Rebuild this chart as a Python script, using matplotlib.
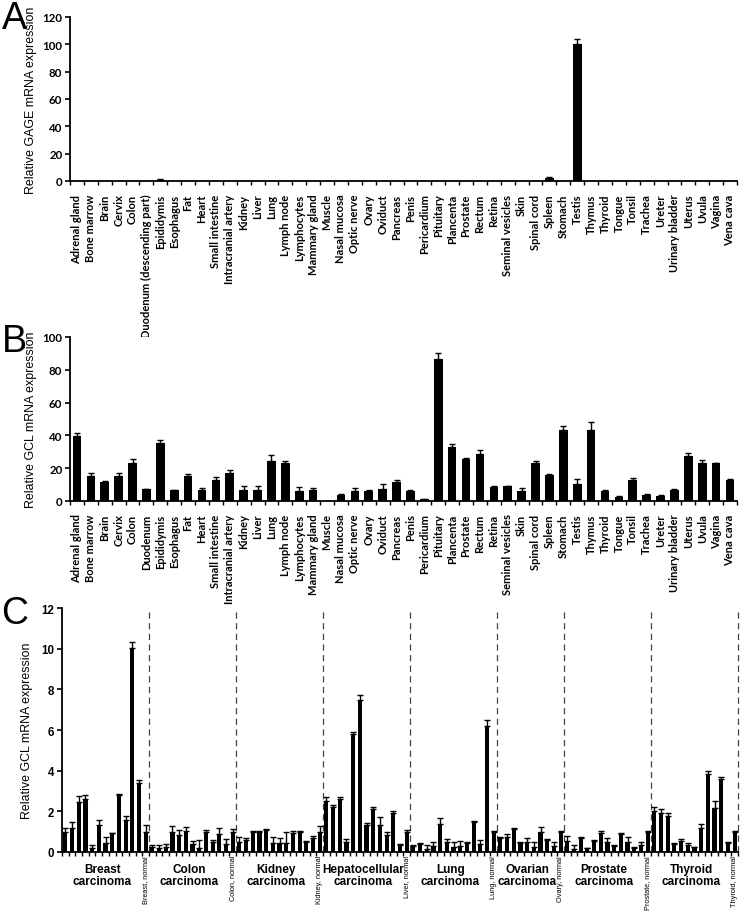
import numpy as np
import matplotlib
matplotlib.use('Agg')
import matplotlib.pyplot as plt
from matplotlib.transforms import blended_transform_factory

# tissue names (panel A uses the long duodenum label)
tissues = ['Adrenal gland', 'Bone marrow', 'Brain', 'Cervix', 'Colon', 'Duodenum',
           'Epididymis', 'Esophagus', 'Fat', 'Heart', 'Small intestine',
           'Intracranial artery', 'Kidney', 'Liver', 'Lung', 'Lymph node',
           'Lymphocytes', 'Mammary gland', 'Muscle', 'Nasal mucosa', 'Optic nerve',
           'Ovary', 'Oviduct', 'Pancreas', 'Penis', 'Pericardium', 'Pituitary',
           'Plancenta', 'Prostate', 'Rectum', 'Retina', 'Seminal vesicles', 'Skin',
           'Spinal cord', 'Spleen', 'Stomach', 'Testis', 'Thymus', 'Thyroid',
           'Tongue', 'Tonsil', 'Trachea', 'Ureter', 'Urinary bladder', 'Uterus',
           'Uvula', 'Vagina', 'Vena cava']
tissues_a = ['Duodenum (descending part)' if t == 'Duodenum' else t for t in tissues]

# panel A - GAGE
gage_expr = [0, 0, 0, 0, 0, 0, 0.8, 0, 0, 0, 0, 0, 0, 0, 0, 0, 0, 0, 0, 0, 0, 0, 0, 0,
             0, 0, 0, 0, 0, 0, 0, 0, 0, 0, 2.0, 0, 100, 0, 0, 0, 0, 0, 0, 0, 0, 0, 0, 0]
gage_err = [0, 0, 0, 0, 0, 0, 0.3, 0, 0, 0, 0, 0, 0, 0, 0, 0, 0, 0, 0, 0, 0, 0, 0, 0,
            0, 0, 0, 0, 0, 0, 0, 0, 0, 0, 1.0, 0, 4.0, 0, 0, 0, 0, 0, 0, 0, 0, 0, 0, 0]

# panel B - GCL in normal tissues
gcl_expr = [39.4, 15.3, 11.6, 15.3, 23.3, 7.3, 35.1, 6.7, 15.5, 6.9, 12.9, 16.9,
            6.7, 6.7, 24.3, 23.3, 6.3, 6.5, 0.1, 3.7, 6.3, 6.1, 7.1, 11.6,
            6.3, 1.0, 86.3, 33.1, 25.7, 28.8, 8.8, 9.0, 6.3, 23.3, 15.9, 43.5,
            10.4, 43.3, 6.3, 2.4, 12.7, 3.9, 3.1, 6.7, 27.6, 23.1, 23.1, 12.9]
gcl_err = [2.0, 2.0, 0.3, 2.0, 2.5, 0.3, 2.0, 0.3, 1.0, 1.0, 1.6, 2.0,
           2.2, 2.7, 4.0, 1.2, 2.2, 1.2, 0, 0.3, 1.8, 0.5, 3.3, 1.0,
           0.4, 0.2, 4.0, 1.8, 0.3, 2.0, 0.5, 0.4, 1.4, 1.2, 0.5, 2.0,
           2.9, 4.9, 0.3, 0.6, 1.4, 0.2, 0.5, 0.8, 1.6, 1.6, 0.3, 0.5]

# panel C - GCL in tumours, last value of each list is the normal tissue
breast = [0.98, 1.2, 2.45, 2.6, 0.22, 1.35, 0.45, 0.92, 2.8, 1.55, 10.05, 3.4, 1.0]
breast_err = [0.18, 0.3, 0.3, 0.2, 0.1, 0.2, 0.3, 0.03, 0.03, 0.2, 0.3, 0.12, 0.35]
colon = [0.25, 0.21, 0.25, 1.0, 0.85, 1.02, 0.41, 0.2, 0.98, 0.48, 0.87, 0.39, 1.0]
colon_err = [0.1, 0.15, 0.15, 0.3, 0.25, 0.2, 0.12, 0.4, 0.12, 0.1, 0.3, 0.25, 0.12]
kidney = [0.5, 0.57, 0.97, 1.0, 1.08, 0.44, 0.44, 0.44, 0.95, 0.98, 0.5, 0.69, 0.98]
kidney_err = [0.25, 0.1, 0.08, 0.05, 0.05, 0.3, 0.25, 0.55, 0.1, 0.05, 0.05, 0.1, 0.3]
liver = [2.5, 2.2, 2.6, 0.48, 5.8, 7.5, 1.35, 2.1, 1.33, 0.85, 1.93, 0.36, 0.98]
liver_err = [0.2, 0.1, 0.12, 0.15, 0.1, 0.2, 0.1, 0.1, 0.4, 0.15, 0.1, 0.05, 0.12]
lung = [0.31, 0.39, 0.15, 0.28, 1.38, 0.48, 0.23, 0.31, 0.44, 1.49, 0.39, 6.2, 1.0]
lung_err = [0.05, 0.05, 0.2, 0.2, 0.3, 0.15, 0.25, 0.25, 0.05, 0.05, 0.2, 0.3, 0.05]
ovary = [0.69, 0.75, 1.11, 0.46, 0.51, 0.26, 1.0, 0.61, 0.28, 1.0]
ovary_err = [0.05, 0.15, 0.08, 0.05, 0.2, 0.25, 0.25, 0.05, 0.2, 0.05]
prostate = [0.56, 0.15, 0.69, 0.2, 0.54, 0.92, 0.51, 0.3, 0.9, 0.48, 0.21, 0.34, 1.0]
prostate_err = [0.25, 0.2, 0.05, 0.02, 0.05, 0.12, 0.2, 0.02, 0.05, 0.25, 0.05, 0.15, 0.05]
thyroid = [2.03, 1.9, 1.79, 0.38, 0.54, 0.34, 0.23, 1.18, 3.84, 2.16, 3.59, 0.44, 1.0]
thyroid_err = [0.2, 0.2, 0.15, 0.05, 0.1, 0.1, 0.02, 0.2, 0.15, 0.35, 0.12, 0.05, 0.05]

tumour_names = ['Breast\ncarcinoma', 'Colon\ncarcinoma', 'Kidney\ncarcinoma',
                'Hepatocellular\ncarcinoma', 'Lung\ncarcinoma', 'Ovarian\ncarcinoma',
                'Prostate\ncarcinoma', 'Thyroid\ncarcinoma']
normal_names = ['Breast, normal', 'Colon, normal', 'Kidney, normal', 'Liver, normal',
                'Lung, normal', 'Ovary, normal', 'Prostate, normal', 'Thyroid, normal']
groups = [breast, colon, kidney, liver, lung, ovary, prostate, thyroid]
group_errs = [breast_err, colon_err, kidney_err, liver_err, lung_err, ovary_err,
              prostate_err, thyroid_err]

ARIAL = 'Liberation Sans'
CALIBRI = 'Lato'


def bars_with_err(ax, vals, errs, width):
    x = np.arange(len(vals))
    vals = np.array(vals, dtype=float)
    errs = np.array(errs, dtype=float)
    ax.bar(x, vals, width=width, color='black', zorder=2)
    # only the upper half of the error bar is drawn
    keep = errs > 0
    ax.errorbar(x[keep], vals[keep], yerr=[np.zeros(keep.sum()), errs[keep]],
                fmt='none', ecolor='black', elinewidth=1.0, capsize=2.0,
                capthick=1.0, zorder=3)
    return x


def style_axes(ax, n, ymax, ystep, tickfont, tickweight='bold'):
    ax.set_xlim(-0.5, n - 0.5)
    ax.set_ylim(0, ymax)
    for s in ['top', 'right']:
        ax.spines[s].set_visible(False)
    for s in ['left', 'bottom']:
        ax.spines[s].set_linewidth(1.3)
    ax.set_yticks(np.arange(0, ymax + 0.1, ystep))
    ax.tick_params(axis='y', direction='out', length=3.5, width=1.2, pad=2)
    for lab in ax.get_yticklabels():
        lab.set_fontfamily(tickfont)
        lab.set_fontweight(tickweight)
        lab.set_fontsize(8.3)
    # excel style ticks between categories
    ax.set_xticks(np.arange(n + 1) - 0.5, minor=True)
    ax.tick_params(axis='x', which='minor', direction='out', length=3, width=1.0)


def tissue_panel(ax, names, vals, errs, ymax, ystep, ylabel):
    x = bars_with_err(ax, vals, errs, 0.62)
    style_axes(ax, len(names), ymax, ystep, CALIBRI)
    ax.set_xticks(x)
    ax.set_xticklabels(names, rotation=90, fontfamily=CALIBRI, fontweight='bold',
                       fontsize=8.0)
    ax.tick_params(axis='x', which='major', length=0, pad=9)
    ax.set_ylabel(ylabel, fontfamily=ARIAL, fontsize=8.9)
    ax.yaxis.set_label_coords(-0.05, 0.5)


fig = plt.figure(figsize=(7.42, 9.2), dpi=100)

ax_a = fig.add_axes([70 / 742, 1 - 182 / 920, 667 / 742, 164 / 920])
tissue_panel(ax_a, tissues_a, gage_expr, gage_err, 120, 20,
             'Relative GAGE mRNA expression')

ax_b = fig.add_axes([70 / 742, 1 - 502 / 920, 667 / 742, 164 / 920])
tissue_panel(ax_b, tissues, gcl_expr, gcl_err, 100, 20,
             'Relative GCL mRNA expression')

# panel C
ax_c = fig.add_axes([62 / 742, 1 - 853 / 920, 676 / 742, 244 / 920])
all_vals = [v for g in groups for v in g]
all_errs = [e for g in group_errs for e in g]
bars_with_err(ax_c, all_vals, all_errs, 0.62)
style_axes(ax_c, len(all_vals), 12, 2, ARIAL)
ax_c.set_xticks([])
ax_c.set_ylabel('Relative GCL mRNA expression', fontfamily=ARIAL, fontsize=8.9)
ax_c.yaxis.set_label_coords(-0.043, 0.5)

trans = blended_transform_factory(ax_c.transData, ax_c.transAxes)
start = 0
for name, normal, g in zip(tumour_names, normal_names, groups):
    n_tum = len(g) - 1
    centre = start + (n_tum - 1) / 2
    ax_c.text(centre, -0.045, name, transform=trans, ha='center', va='top',
              fontfamily=ARIAL, fontweight='bold', fontsize=8.5, linespacing=1.05)
    ax_c.text(start + n_tum, -0.012, normal, transform=trans, ha='center', va='top',
              rotation=90, fontfamily=ARIAL, fontsize=5.3)
    edge = start + n_tum + 0.5
    ax_c.plot([edge, edge], [0, 12], color='#444444', lw=0.9,
              ls=(0, (5, 3.5)), clip_on=False, zorder=1)
    start += len(g)

# panel letters
for letter, ytop in [('A', 1), ('B', 324), ('C', 596)]:
    fig.text(0.002, 1 - ytop / 920, letter, fontfamily=ARIAL, fontsize=27,
             va='top', ha='left')

fig.savefig('out.png', dpi=100)
